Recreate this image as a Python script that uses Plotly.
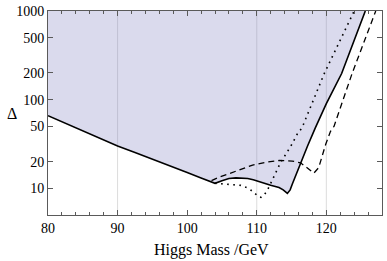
import math
import plotly.graph_objects as go

# ---- data ----
mass_solid = [80, 82.5, 85, 87.5, 90, 92.5, 95, 97.5, 100, 102, 103.5, 104.0, 105, 106, 107, 108,
              108.7, 109.5, 110.3, 111, 112, 113.2, 113.8, 114.4, 114.8, 115.1, 115.6, 116.3,
              117.3, 118.4, 120, 122.2, 125.6]
delta_solid = [66, 54, 44, 36, 30, 25.4, 21.5, 18.1, 15.1, 13.1, 11.8, 11.4, 12.2, 12.9, 13.1, 13.1,
               12.9, 12.5, 11.9, 11.4, 10.8, 10.2, 9.6, 8.75, 9.6, 11.1, 14.0, 19.4,
               30, 47.7, 90, 197, 1000]

mass_dotted = [104.0, 104.6, 106.3, 107.7, 108.8, 109.6, 110.2, 110.6, 111.0, 111.5, 112.3, 113.4,
               114.9, 115.9, 116.5, 119.7, 124.0]
delta_dotted = [11.4, 11.3, 11.2, 10.8, 10.0, 9.0, 8.1, 7.9, 8.3, 9.4, 12.7, 19.4,
                29.9, 42, 48, 197, 1000]

mass_dashed = [103.5, 104.6, 105.8, 107.7, 109.4, 111.5, 113.2, 115.1, 116.3, 117.5, 118.2, 118.9,
               119.9, 120.6, 121.1, 123.7, 127.1]
delta_dashed = [12.2, 13.4, 14.4, 16.4, 18.3, 19.8, 20.6, 20.3, 19.4, 16.4, 14.8, 17.1,
                31.2, 43.9, 50, 197, 1000]

x_ticks = [80, 90, 100, 110, 120]
y_ticks = [10, 20, 50, 100, 200, 500, 1000]
y_grid = [6, 7, 8, 20, 30, 40, 50, 60, 70, 90, 200, 300, 400, 700, 800]
y_grid_major = [10]
x_grid = [90, 110, 120]

FONT = "Liberation Serif"
AX = "#5a5a5a"

fig = go.Figure()

# excluded (shaded) region above the solid curve
fig.add_trace(go.Scatter(
    x=mass_solid + [mass_solid[0]],
    y=delta_solid + [delta_solid[-1]],
    fill="toself", fillcolor="rgba(120,120,190,0.27)",
    line=dict(width=0), mode="lines", hoverinfo="skip", showlegend=False))

fig.add_trace(go.Scatter(x=mass_dotted, y=delta_dotted, mode="lines",
                         line=dict(color="black", width=1.6, dash="1.6px,4.5px"), showlegend=False))
fig.add_trace(go.Scatter(x=mass_dashed, y=delta_dashed, mode="lines",
                         line=dict(color="black", width=1.3, dash="6px,4px"), showlegend=False))
fig.add_trace(go.Scatter(x=mass_solid, y=delta_solid, mode="lines",
                         line=dict(color="black", width=1.6), showlegend=False))

shapes = []
for v in y_grid:
    shapes.append(dict(type="line", xref="paper", x0=0, x1=1, yref="y",
                       y0=math.log10(v), y1=math.log10(v),
                       line=dict(color="#d2d2d2", width=1), layer="below"))
for v in y_grid_major:
    shapes.append(dict(type="line", xref="paper", x0=0, x1=1, yref="y",
                       y0=math.log10(v), y1=math.log10(v),
                       line=dict(color="#a0a0a0", width=1), layer="below"))
for v in x_grid:
    shapes.append(dict(type="line", yref="paper", y0=0, y1=1, xref="x",
                       x0=v, x1=v, line=dict(color="#dcdcdc", width=1), layer="below"))

fig.update_layout(
    width=387, height=261,
    margin=dict(l=48, r=4, t=8, b=46),
    plot_bgcolor="white", paper_bgcolor="white",
    font=dict(family=FONT, size=14, color="black"),
    shapes=shapes,
    xaxis=dict(range=[80, 128], tickvals=x_ticks, ticks="inside", ticklen=5,
               tickcolor=AX, linecolor=AX, linewidth=1, mirror="allticks",
               showgrid=False, zeroline=False,
               minor=dict(dtick=2, tick0=80, ticks="inside", ticklen=3, tickcolor=AX, showgrid=False),
               tickfont=dict(family=FONT, size=14)),
    yaxis=dict(type="log", range=[math.log10(5), 3], tickvals=y_ticks,
               ticktext=[str(v) for v in y_ticks],
               ticks="inside", ticklen=5, tickcolor=AX, linecolor=AX, linewidth=1,
               mirror="allticks", showgrid=False, zeroline=False,
               tickfont=dict(family=FONT, size=14)),
    annotations=[
        dict(text="Higgs Mass /GeV", xref="paper", yref="paper", x=0.49, y=-0.174,
             xanchor="center", yanchor="middle", showarrow=False,
             font=dict(family=FONT, size=16)),
        dict(text="Δ", xref="paper", yref="paper", x=-0.107, y=0.5,
             xanchor="center", yanchor="middle", showarrow=False,
             font=dict(family=FONT, size=16)),
    ],
)

fig.write_html("out.html", config={"displayModeBar": False},
               post_script="document.body.style.margin='0';document.body.style.overflow='hidden';")
